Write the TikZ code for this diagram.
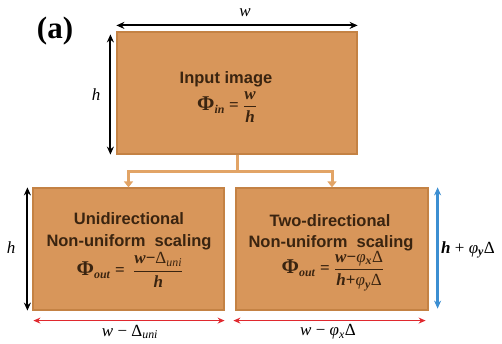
\documentclass[tikz,border=0pt]{standalone}
\usepackage{fontspec}
\usepackage{amsmath}
\setmainfont{Liberation Serif}
\setsansfont{Liberation Sans}
\usetikzlibrary{arrows.meta}
\definecolor{boxfill}{HTML}{D8965A}
\definecolor{boxline}{HTML}{C48244}
\definecolor{conn}{HTML}{E2A466}
\definecolor{txt}{HTML}{3A2410}
\definecolor{redarr}{HTML}{E0282E}
\definecolor{bluearr}{HTML}{3C8FD2}
\newcommand{\bi}[1]{\textbf{\textit{#1}}}
\newcommand{\myfrac}[2]{$\dfrac{\hbox{#1}}{\hbox{#2}}$}
\newcommand{\bigPhi}{{\fontsize{21}{21}\selectfont\textbf{Φ}}}
\tikzset{
  box/.style={draw=boxline, line width=1.2pt, fill=boxfill, minimum height=122, inner sep=0pt},
  boxtext/.style={text=txt, font=\sffamily\bfseries\fontsize{16.5}{21}\selectfont, inner sep=0pt, anchor=base},
  formula/.style={text=txt, font=\rmfamily\fontsize{17}{19}\selectfont, inner sep=0pt},
  connline/.style={draw=conn, line width=3pt},
  connarrow/.style={connline, -{Triangle[length=6pt,width=9pt]}},
  dim/.style={line width=2pt, {Stealth[length=8pt,width=7pt]}-{Stealth[length=8pt,width=7pt]}},
  reddim/.style={draw=redarr, line width=1.5pt, {Stealth[length=7pt,width=6pt]}-{Stealth[length=7pt,width=6pt]}},
  bluedim/.style={draw=bluearr, line width=2.5pt, {Stealth[length=8pt,width=7pt]}-{Stealth[length=8pt,width=7pt]}},
  lab/.style={font=\rmfamily\fontsize{17}{19}\selectfont, inner sep=0pt},
}
\begin{document}
\begin{tikzpicture}[x=1pt, y=-1pt]
\useasboundingbox (0,0) rectangle (502,344);
\node[font=\rmfamily\bfseries\fontsize{31}{31}\selectfont, inner sep=0pt] (tag) at (55,31) {(a)};

% boxes
\node[box, minimum width=240] (top) at (237,93) {};
\node[box, minimum width=191] (bl) at (128.5,249) {};
\node[box, minimum width=192] (br) at (332,249) {};

% box texts
\node[boxtext] (t1) at (226,84) {Input image};
\node[formula] (f1) at (227,107) {\bigPhi\textsubscript{\bi{in}} \textbf{=} \myfrac{\bi{w}}{\bi{h}}};

\node[boxtext] (l1) at (129,225) {Unidirectional};
\node[boxtext] (l2) at (129,246) {Non-uniform~ scaling};
\node[formula] (f2) at (130,270) {\bigPhi\textsubscript{\bi{out}} \textbf{=} ~\myfrac{\bi{w}\textbf{−}Δ\textsubscript{\textit{uni}}}{\bi{h}}};

\node[boxtext] (r1) at (330,226) {Two-directional};
\node[boxtext] (r2) at (331,247) {Non-uniform~ scaling};
\node[formula] (f3) at (333,271) {\bigPhi\textsubscript{\bi{out}} \textbf{=} \myfrac{\bi{w}\textbf{−}\textit{φ}\textsubscript{\bi{x}}Δ}{\bi{h}\textbf{+}\textit{φ}\textsubscript{\bi{y}}Δ}};

% connectors
\coordinate (j) at (237,172);
\draw[connline] (top.south) -- (j);
\draw[connarrow] (j) -| (bl.north);
\draw[connarrow] (j) -| (br.north);

% dimension arrows
\draw[dim] ([yshift=6pt]top.north west) -- ([yshift=6pt]top.north east);
\draw[dim] ([xshift=-6pt,yshift=-3pt]top.north west) -- ([xshift=-6pt]top.south west);
\draw[dim] ([xshift=-5pt]bl.north west) -- ([xshift=-5pt]bl.south west);
\draw[reddim] ([yshift=-10pt,xshift=1pt]bl.south west) -- ([yshift=-10pt]bl.south east);
\draw[reddim] ([yshift=-10pt,xshift=-2pt]br.south west) -- ([yshift=-10pt,xshift=-3pt]br.south east);
\draw[bluedim] ([xshift=9pt]br.north east) -- ([xshift=9pt,yshift=2pt]br.south east);

% labels
\node[lab] (lw) at (245,13) {\textit{w}};
\node[lab] (lh1) at (96,95) {\textit{h}};
\node[lab] (lh2) at (11,248) {\textit{h}};
\node[lab] (lbl) at (130,332) {\textit{w} − Δ\textsubscript{\textit{uni}}};
\node[lab] (lbr) at (328,332) {\textit{w} − \textit{φ}\textsubscript{\textit{x}}Δ};
\node[lab, anchor=west] (lbh) at (441,250) {\bi{h} + \textit{φ}\textsubscript{\bi{y}}Δ};
\end{tikzpicture}
\end{document}
